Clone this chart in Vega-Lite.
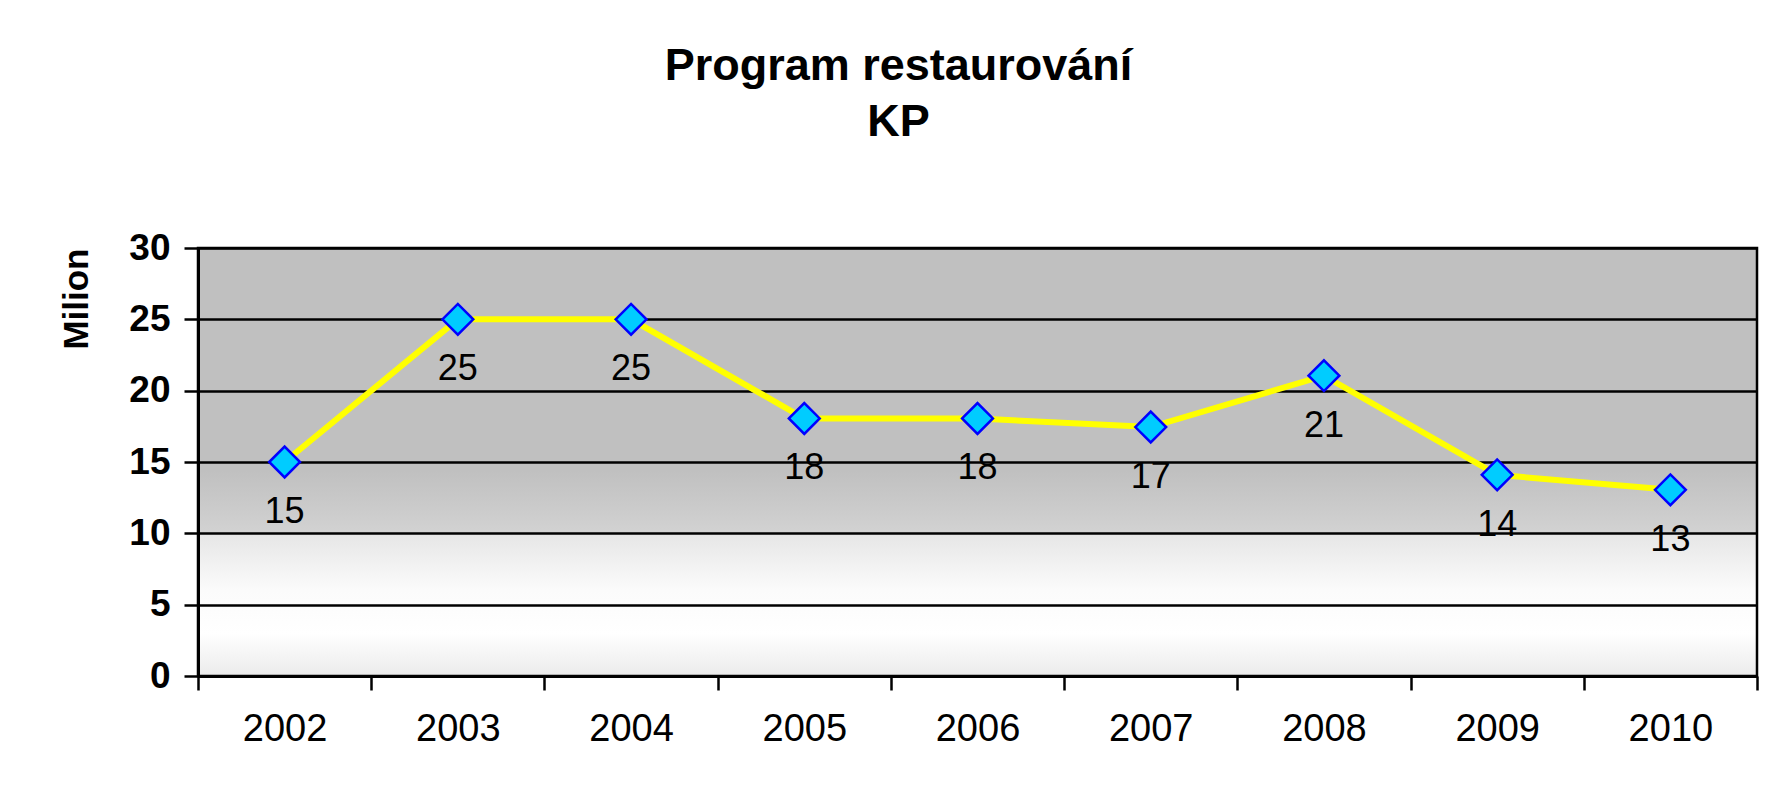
{
  "$schema": "https://vega.github.io/schema/vega-lite/v6.json",
  "width": 1559,
  "height": 428,
  "autosize": {"type": "none"},
  "padding": {"left": 198, "top": 248, "right": 14, "bottom": 113},
  "background": "white",
  "title": {
    "text": ["Program restaurování", "KP"],
    "font": "Liberation Sans",
    "fontSize": 45,
    "fontWeight": "bold",
    "color": "#000000",
    "anchor": "middle",
    "frame": "group",
    "dx": -79,
    "lineHeight": 56,
    "offset": 84
  },
  "data": {
    "values": [
      {"year": "2002", "value": 15.0},
      {"year": "2003", "value": 25.0},
      {"year": "2004", "value": 25.0},
      {"year": "2005", "value": 18.05},
      {"year": "2006", "value": 18.05},
      {"year": "2007", "value": 17.45},
      {"year": "2008", "value": 21.05},
      {"year": "2009", "value": 14.1},
      {"year": "2010", "value": 13.05}
    ]
  },
  "encoding": {
    "x": {
      "field": "year",
      "type": "ordinal",
      "scale": {"type": "band", "paddingInner": 0, "paddingOuter": 0},
      "axis": {
        "title": null,
        "labelAngle": 0,
        "labelFontSize": 38,
        "labelPadding": 20,
        "tickBand": "extent",
        "grid": false
      }
    },
    "y": {
      "field": "value",
      "type": "quantitative",
      "scale": {"domain": [0, 30], "nice": false},
      "axis": {
        "values": [0, 5, 10, 15, 20, 25, 30],
        "grid": true,
        "labelFontSize": 37,
        "labelFontWeight": "bold",
        "labelPadding": 14,
        "title": "Milion",
        "titleFontSize": 35,
        "titleFontWeight": "bold",
        "titleAnchor": "end",
        "titlePadding": 34,
        "titleColor": "#000000"
      }
    }
  },
  "layer": [
    {"mark": {"type": "line", "color": "#ffff00", "strokeWidth": 6}},
    {"mark": {"type": "point", "shape": "diamond", "filled": true, "fill": "#00ccff", "stroke": "#0000ff", "strokeWidth": 2.5, "size": 950, "opacity": 1}},
    {"mark": {"type": "text", "dy": 50, "baseline": "middle", "font": "Liberation Sans", "fontSize": 36, "color": "#000000"},
     "encoding": {"text": {"field": "value", "type": "quantitative", "format": ".0f"}}}
  ],
  "config": {
    "view": {
      "stroke": "#000000",
      "strokeWidth": 2.5,
      "fill": {
        "gradient": "linear", "x1": 0, "y1": 0, "x2": 0, "y2": 1,
        "stops": [
          {"offset": 0, "color": "#c0c0c0"},
          {"offset": 0.52, "color": "#c0c0c0"},
          {"offset": 0.665, "color": "#d2d2d2"},
          {"offset": 0.668, "color": "#e6e6e6"},
          {"offset": 0.8, "color": "#fbfbfb"},
          {"offset": 0.9, "color": "#ffffff"},
          {"offset": 1, "color": "#ebebeb"}
        ]
      }
    },
    "axis": {
      "domainColor": "#000000",
      "domainWidth": 3,
      "tickColor": "#000000",
      "tickWidth": 2.5,
      "tickSize": 14,
      "gridColor": "#000000",
      "gridWidth": 2.5,
      "gridOpacity": 1,
      "labelColor": "#000000",
      "labelFont": "Liberation Sans",
      "titleFont": "Liberation Sans"
    }
  }
}
